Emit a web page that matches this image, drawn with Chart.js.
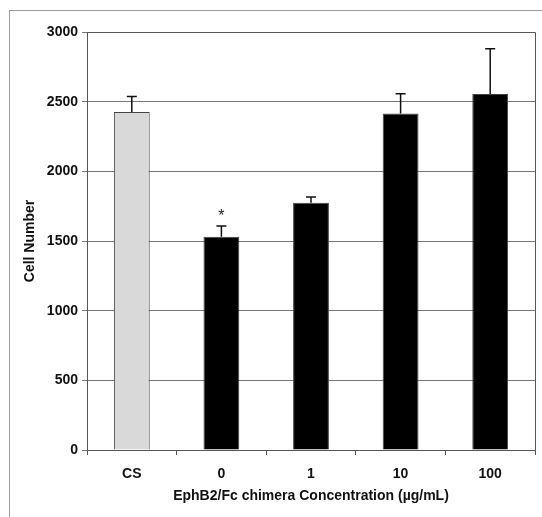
<!DOCTYPE html>
<html>
<head>
<meta charset="utf-8">
<script src="https://cdn.jsdelivr.net/npm/chart.js@4"></script>
<style>
    html, body { margin: 0; padding: 0; background: #fff; }
    #wrap { position: relative; width: 542px; height: 517px; overflow: hidden; }
    #frame { position: absolute; left: 9px; top: 10px; width: 600px; height: 600px;
             border-left: 1px solid #9a9a9a; border-top: 1px solid #9a9a9a; }
    canvas { position: absolute; left: 0; top: 0; }
</style>
</head>
<body>
<div id="wrap">
    <div id="frame"></div>
    <canvas id="chart" width="542" height="517"></canvas>
</div>
<script>
const categories = ['CS', '0', '1', '10', '100'];
const cellNumber = [2425, 1530, 1775, 2415, 2555];
const errorUpper = [112, 78, 40, 142, 325];
const marks = ['', '*', '', '', ''];
const yTicks = [0, 500, 1000, 1500, 2000, 2500, 3000];

const barColors = ['#d9d9d9', '#000', '#000', '#000', '#000'];
const fontFamily = '"Liberation Sans", Arial, sans-serif';

const errorBars = {
    id: 'errorBars',
    afterDatasetsDraw(chart) {
        const ctx = chart.ctx;
        const y = chart.scales.y;
        const meta = chart.getDatasetMeta(0);
        ctx.save();
        ctx.strokeStyle = '#111';
        ctx.lineWidth = 1.5;
        meta.data.forEach((bar, i) => {
            const top = y.getPixelForValue(cellNumber[i] + errorUpper[i]);
            ctx.beginPath();
            ctx.moveTo(bar.x, bar.y);
            ctx.lineTo(bar.x, top);
            ctx.moveTo(bar.x - 5, top);
            ctx.lineTo(bar.x + 5, top);
            ctx.stroke();
            if (marks[i]) {
                ctx.fillStyle = '#222';
                ctx.font = '16px ' + fontFamily;
                ctx.textAlign = 'center';
                ctx.textBaseline = 'bottom';
                ctx.fillText(marks[i], bar.x, top - 1);
            }
        });
        // box round the plot area
        const a = chart.chartArea;
        ctx.strokeStyle = '#555';
        ctx.lineWidth = 1;
        ctx.beginPath();
        ctx.moveTo(a.left, a.top + 0.5);
        ctx.lineTo(a.right + 0.5, a.top + 0.5);
        ctx.lineTo(a.right + 0.5, a.bottom);
        ctx.stroke();
        ctx.restore();
    }
};

new Chart(document.getElementById('chart'), {
    type: 'bar',
    data: {
        labels: categories,
        datasets: [{
            data: cellNumber,
            backgroundColor: barColors,
            borderColor: '#444',
            borderWidth: 1,
            categoryPercentage: 1,
            barPercentage: 0.4
        }]
    },
    options: {
        responsive: false,
        animation: false,
        devicePixelRatio: 1,
        layout: { padding: { left: 22, right: 7, top: 32, bottom: 8 } },
        plugins: {
            legend: { display: false },
            tooltip: { enabled: false }
        },
        scales: {
            x: {
                offset: true,
                afterFit: (s) => { s.height = 59; },
                grid: { offset: true, drawOnChartArea: false, tickLength: 5, color: '#555' },
                border: { color: '#555', width: 1 },
                ticks: { color: '#111', padding: 11, font: { family: fontFamily, size: 14, weight: 'bold' } },
                title: {
                    display: true,
                    text: 'EphB2/Fc chimera Concentration (µg/mL)',
                    color: '#111',
                    padding: { top: 7 },
                    font: { family: fontFamily, size: 14, weight: 'bold' }
                }
            },
            y: {
                min: 0,
                max: 3000,
                afterFit: (s) => { s.width = 65; },
                afterBuildTicks: (s) => { s.ticks = yTicks.map(v => ({ value: v })); },
                grid: { color: '#777', lineWidth: 1, tickLength: 5 },
                border: { color: '#555', width: 1 },
                ticks: {
                    color: '#111',
                    padding: 4,
                    callback: (v) => String(v),
                    font: { family: fontFamily, size: 14, weight: 'bold' }
                },
                title: {
                    display: true,
                    text: 'Cell Number',
                    color: '#111',
                    padding: 0,
                    font: { family: fontFamily, size: 14, weight: 'bold' }
                }
            }
        }
    },
    plugins: [errorBars]
});
</script>
</body>
</html>
